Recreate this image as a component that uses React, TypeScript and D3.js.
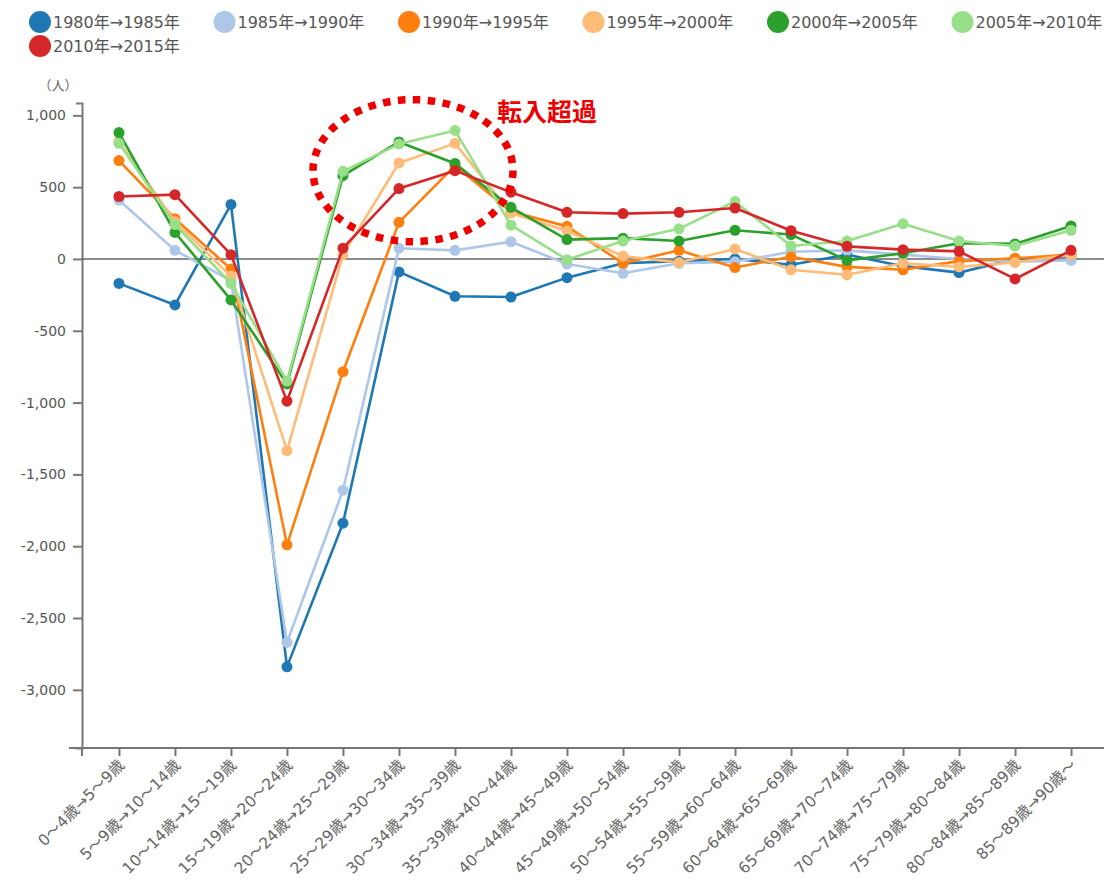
import { useEffect, useRef } from 'react';
import * as d3 from 'd3';

const categories = [
  '0～4歳→5～9歳', '5～9歳→10～14歳', '10～14歳→15～19歳', '15～19歳→20～24歳',
  '20～24歳→25～29歳', '25～29歳→30～34歳', '30～34歳→35～39歳', '35～39歳→40～44歳',
  '40～44歳→45～49歳', '45～49歳→50～54歳', '50～54歳→55～59歳', '55～59歳→60～64歳',
  '60～64歳→65～69歳', '65～69歳→70～74歳', '70～74歳→75～79歳', '75～79歳→80～84歳',
  '80～84歳→85～89歳', '85～89歳→90歳～',
];

const seriesNames = [
  '1980年→1985年', '1985年→1990年', '1990年→1995年', '1995年→2000年',
  '2000年→2005年', '2005年→2010年', '2010年→2015年',
];
const seriesColors = ['#1f77b4', '#aec7e8', '#ff7f0e', '#ffbb78', '#2ca02c', '#98df8a', '#d62728'];

const s1980 = [-170, -320, 380, -2840, -1840, -90, -260, -265, -130, -30, -15, 0, -40, 30, -50, -95, 0, 20];
const s1985 = [410, 60, -150, -2670, -1610, 75, 60, 120, -35, -100, -30, -20, 50, 60, 30, 0, -20, -10];
const s1990 = [685, 280, -70, -1990, -785, 255, 650, 330, 227, -30, 60, -60, 15, -55, -75, -15, 5, 30];
const s1995 = [820, 260, -120, -1335, 30, 668, 805, 320, 195, 20, -25, 70, -75, -110, -30, -55, -25, 30];
const s2000 = [880, 185, -285, -870, 580, 815, 665, 360, 135, 145, 125, 200, 170, -10, 40, 110, 105, 230];
const s2005 = [805, 240, -170, -850, 610, 800, 895, 235, -5, 125, 210, 400, 90, 125, 245, 125, 90, 200];
const s2010 = [435, 448, 30, -990, 75, 490, 615, 465, 325, 316, 325, 355, 197, 88, 65, 53, -139, 60];

const allSeries = [s1980, s1985, s1990, s1995, s2000, s2005, s2010];
const yTicks = [1000, 500, 0, -500, -1000, -1500, -2000, -2500, -3000];

const FONT = '"DejaVu Sans", "Noto Sans CJK JP", sans-serif';
const CJK = '"Noto Sans CJK JP", sans-serif';

export default function App() {
  const ref = useRef<SVGSVGElement>(null);

  useEffect(() => {
    if (!ref.current) return;
    const W = 1104, H = 882;
    const left = 82, top = 103, bottom = 748;

    const x = d3.scalePoint<string>().domain(categories).range([left, 1108]).padding(0.66);
    const y = d3.scaleLinear().domain([-3405, 1086]).range([bottom, top]);

    const svg = d3.select(ref.current);
    svg.selectAll('*').remove();
    svg.attr('width', W).attr('height', H).attr('viewBox', `0 0 ${W} ${H}`);

    // legend
    const leg = svg.append('g').attr('font-family', FONT).attr('font-size', 16).attr('fill', '#555');
    seriesNames.forEach((name, i) => {
      const col = i % 6, row = Math.floor(i / 6);
      const lx = 40 + col * 184.5, ly = 22 + row * 24;
      leg.append('circle').attr('cx', lx).attr('cy', ly).attr('r', 11).attr('fill', seriesColors[i]);
      leg.append('text').attr('x', lx + 13).attr('y', ly + 6).text(name);
    });

    // y axis
    const fmt = d3.format(',');
    const yAxis = svg.append('g').attr('transform', `translate(${left},0)`)
      .call(d3.axisLeft(y).tickValues(yTicks).tickSize(9).tickSizeOuter(6)
        .tickFormat(d => fmt(d as number).replace('−', '-')));
    yAxis.select('.domain').attr('stroke', '#777').attr('stroke-width', 2);
    yAxis.selectAll('.tick line').attr('stroke', '#777').attr('stroke-width', 2);
    yAxis.selectAll('.tick text').attr('font-family', FONT).attr('font-size', 14).attr('fill', '#555').attr('dx', -4);

    svg.append('text').attr('x', 58).attr('y', 90).attr('text-anchor', 'middle')
      .attr('font-family', CJK).attr('font-size', 13).attr('fill', '#666').text('（人）');

    // x axis
    const xAxis = svg.append('g').attr('transform', `translate(0,${bottom})`)
      .call(d3.axisBottom(x).tickSize(8).tickSizeOuter(0));
    xAxis.select('.domain').attr('d', `M69,0H${W}`).attr('stroke', '#777').attr('stroke-width', 2);
    xAxis.selectAll('.tick line').attr('stroke', '#777').attr('stroke-width', 2);
    xAxis.selectAll('.tick text')
      .attr('font-family', FONT).attr('font-size', 15.5).attr('fill', '#666')
      .attr('text-anchor', 'end').attr('dy', 0).attr('y', 0)
      .attr('transform', 'translate(6,18) rotate(-45)');
    xAxis.append('line').attr('x1', left).attr('x2', left).attr('y1', 0).attr('y2', 8)
      .attr('stroke', '#777').attr('stroke-width', 2);

    // zero line
    svg.append('line').attr('x1', left).attr('x2', W).attr('y1', y(0)).attr('y2', y(0))
      .attr('stroke', '#666').attr('stroke-width', 1.6);

    const line = d3.line<number>().x((_, i) => x(categories[i])!).y(d => y(d));

    allSeries.forEach((vals, i) => {
      const g = svg.append('g');
      g.append('path').attr('d', line(vals)!).attr('fill', 'none')
        .attr('stroke', seriesColors[i]).attr('stroke-width', 2.6).attr('stroke-linejoin', 'round');
      g.selectAll('circle').data(vals).enter().append('circle')
        .attr('cx', (_, j) => x(categories[j])!).attr('cy', d => y(d)).attr('r', 5.5)
        .attr('fill', seriesColors[i]);
    });

    // annotation
    const step = x.step();
    svg.append('ellipse')
      .attr('cx', x(categories[5])! + step * 0.25).attr('cy', y(615))
      .attr('rx', 100).attr('ry', 71)
      .attr('fill', 'none').attr('stroke', '#ee0000').attr('stroke-width', 7.5)
      .attr('stroke-dasharray', '7.5 7.5');
    svg.append('text').attr('x', 497).attr('y', 121)
      .attr('font-family', CJK).attr('font-size', 25).attr('font-weight', 'bold')
      .attr('fill', '#ee0000').text('転入超過');
  }, []);

  return <svg ref={ref} style={{ position: 'absolute', left: 0, top: 0, display: 'block', background: '#fff' }} />;
}
